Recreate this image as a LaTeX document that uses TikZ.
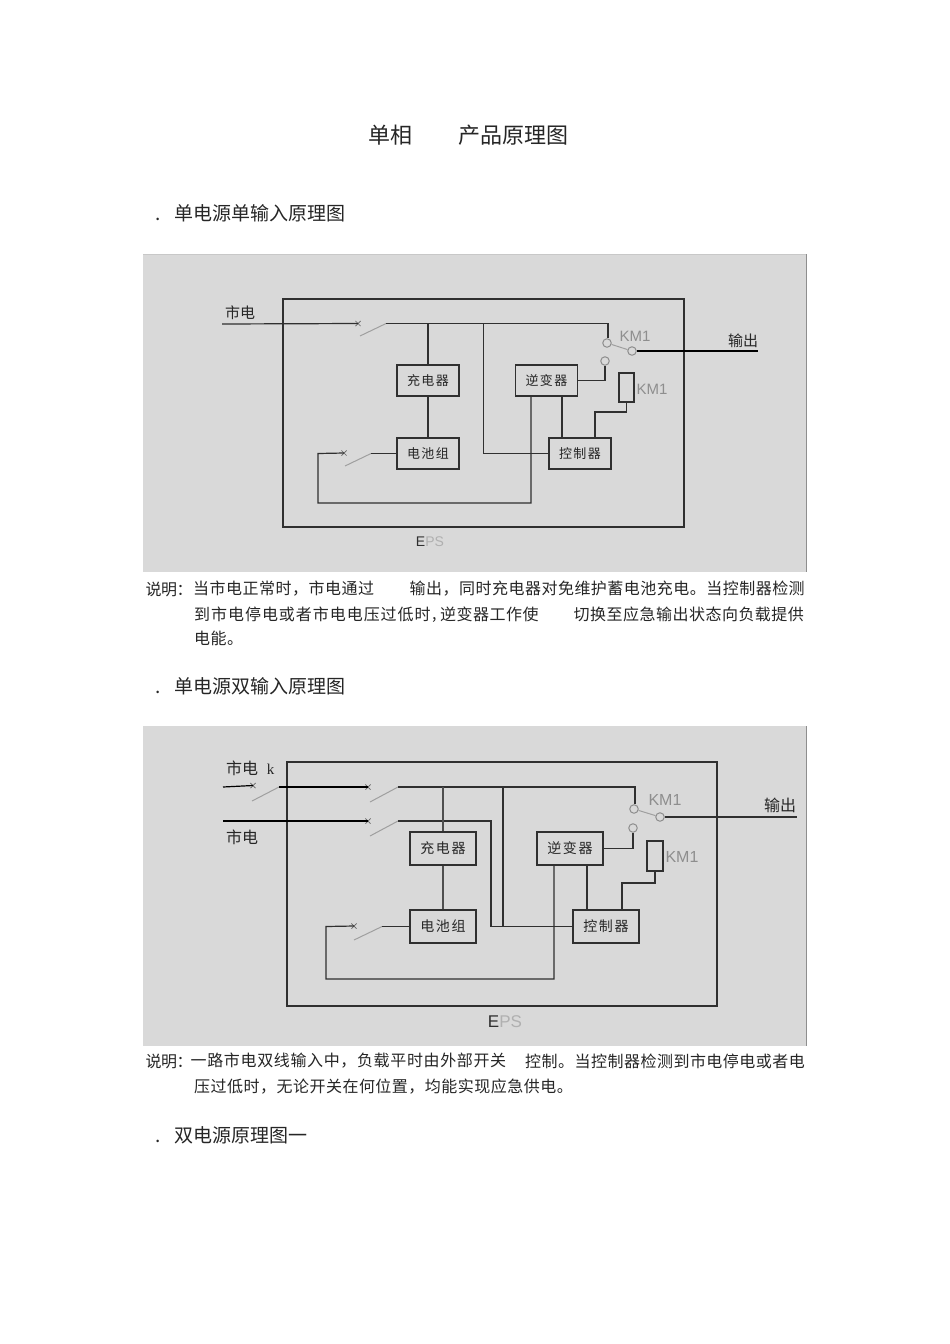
\documentclass[tikz,border=0pt]{standalone}
\usepackage{fontspec}
\setmainfont{Liberation Sans}
\newfontfamily\cjk{Noto Sans CJK SC}
\newfontfamily\serifk{Liberation Serif}
\usetikzlibrary{shapes.misc}
\definecolor{panelbg}{HTML}{D9D9D9}
\definecolor{wire}{HTML}{303030}
\definecolor{txt}{HTML}{262626}
\definecolor{soft}{HTML}{8E8E8E}
\newcommand{\seg}[6]{\node[seg] (#1) at (#2) {\fontsize{#3}{#3}\selectfont\cjk\addfontfeature{LetterSpace=#4}\vphantom{单}#5#6};}
\tikzset{
  seg/.style={anchor=west,inner sep=0pt,text=txt},
  wireline/.style={draw=wire,line width=1.2pt},
  thick wire/.style={draw=wire!85,line width=1.4pt},
  blade/.style={draw=soft!85,line width=1pt},
  outerbox/.style={draw=wire,line width=1.2pt,inner sep=0pt},
  unitA/.style={draw=wire,line width=1.25pt,inner sep=0pt,minimum width=62pt,minimum height=31pt,text=txt,font=\cjk\fontsize{13}{13}\selectfont\addfontfeature{LetterSpace=11}},
  unitB/.style={draw=wire,line width=1.25pt,inner sep=0pt,minimum width=66pt,minimum height=33pt,text=txt,font=\cjk\fontsize{14}{14}\selectfont\addfontfeature{LetterSpace=12}},
  coil/.style={draw=wire,line width=1.25pt,inner sep=0pt},
  contact/.style={circle,draw=soft,line width=1pt,fill=panelbg,inner sep=0pt,minimum size=8.5pt},
  xm/.style={cross out,draw=soft!70!black,line width=0.7pt,inner sep=0pt,minimum size=4.5pt},
  lab/.style={inner sep=0pt,text=txt,font=\cjk\fontsize{15}{15}\selectfont},
  kmlab/.style={inner sep=0pt,text=soft,font=\fontsize{15}{15}\selectfont},
  epslab/.style={inner sep=0pt,font=\fontsize{14}{14}\selectfont},
}
\begin{document}
\begin{tikzpicture}[x=1pt,y=-1pt]
\useasboundingbox[fill=white] (0,0) rectangle (950,1344);

% ---- headings
\seg{t1}{368,135}{22}{0}{单相}{}
\seg{t2}{458,135}{22}{0}{产品原理图}{}
\seg{h1d}{155,213}{19}{0}{.}{}
\seg{h1}{174,213}{19}{0}{单电源单输入原理图}{}
\seg{h2d}{155,686}{19}{0}{.}{}
\seg{h2}{174,686}{19}{0}{单电源双输入原理图}{}
\seg{h3d}{155,1135}{19}{0}{.}{}
\seg{h3}{174,1135}{19}{0}{双电源原理图一}{}

% ---- captions
\seg{c1a}{145.5,589}{16}{-3}{说明：}{}
\seg{c1b}{193,589}{16}{3}{当市电正常时，市电通过}{}
\seg{c1c}{409.5,589}{16}{3}{输出，同时充电器对免维护蓄电池充电。当控制器检测}{}
\seg{c1d}{194,614}{16}{6}{到市电停电或者市电电压过低时}{}
\seg{c1e}{432,614}{16}{0}{,}{}
\seg{c1f}{440,614}{16}{3}{逆变器工作使}{}
\seg{c1g}{573.5,614}{16}{3}{切换至应急输出状态向负载提供}{}
\seg{c1h}{194,638}{16}{3}{电能。}{}
\seg{c2a}{145.5,1061}{16}{-3}{说明：}{}
\seg{c2b}{190.5,1061}{16}{4}{一路市电双线输入中，负载平时由外部开关}{}
\seg{c2c}{525,1061}{16}{3}{控制。当控制器检测到市电停电或者电}{}
\seg{c2d}{194,1087}{16}{3}{压过低时，无论开关在何位置，均能实现应急供电。}{}

% ======== PANEL 1
\fill[panelbg] (143,254) rectangle (806,572);
\draw[soft,line width=1pt] (806.5,254) -- (806.5,572);
\draw[panelbg!92!black,line width=0.8pt] (143,254) -- (806,254);
\node[outerbox,minimum width=401pt,minimum height=228pt] (eps1) at (483.5,413) {};
\node[unitA] (chg1) at (428,380.5) {充电器};
\node[unitA] (bat1) at (428,453.5) {电池组};
\node[unitA] (inv1) at (546.5,380.5) {逆变器};
\node[unitA] (ctl1) at (580,453.5) {控制器};
\node[coil,minimum width=15pt,minimum height=29pt] (coil1) at (626.5,387.5) {};
\coordinate (in1) at (222,324);
\node[xm] (x1) at (358,323.5) {};
\coordinate (sw1b) at (360,336);
\coordinate (sw1t) at (386,323.5);
\coordinate (j1a) at (428,323.5);
\coordinate (j1b) at (483.5,323.5);
\coordinate (top1) at (608,323.5);
\node[contact] (k1a) at (607,343) {};
\node[contact] (k1c) at (632,351) {};
\node[contact] (k1b) at (605,361) {};
\coordinate (out1) at (758,351);
\draw[wireline] (in1) -- (x1.center);
\draw[blade] (sw1b) -- (sw1t);
\draw[wireline] (sw1t) -- (top1) -- (k1a.north -| top1);
\draw[wireline] (j1a) -- (chg1.north);
\draw[wireline] (chg1.south) -- (bat1.north);
\draw[wireline] (j1b) |- (ctl1.west);
\draw[wireline] (inv1.east) -| (k1b.south);
\draw[blade] (k1a) -- (k1c);
\draw[wireline,draw=black] (k1c.east) -- (out1);
\coordinate (inv1d) at (531,396);
\coordinate (ret1) at (531,503);
\coordinate (ret1l) at (318,503);
\coordinate (ret1u) at (318,453.5);
\node[xm] (x1b) at (344,453) {};
\coordinate (sw1c) at (345,466);
\coordinate (sw1d) at (371,453.5);
\draw[wireline] (inv1d) -- (ret1) -- (ret1l) -- (ret1u) -- (x1b.center);
\draw[blade] (sw1c) -- (sw1d);
\draw[wireline] (sw1d) -- (bat1.west);
\draw[wireline] (inv1.south -| 562,0) -- (ctl1.north -| 562,0);
\coordinate (c1r) at (595,412);
\draw[wireline] (coil1.south) |- (c1r) -- (ctl1.north -| c1r);
\node[lab] (m1) at (240,312.5) {市电};
\node[lab] (o1) at (743,341) {输出};
\node[kmlab] (km1a) at (635,336) {KM1};
\node[kmlab] (km1b) at (652,389) {KM1};
\node[epslab] (e1) at (430,542) {\textcolor{wire}{E}\textcolor{soft!70}{PS}};

% ======== PANEL 2
\fill[panelbg] (143,726) rectangle (806,1046);
\draw[soft,line width=1pt] (806.5,726) -- (806.5,1046);
\node[outerbox,minimum width=430pt,minimum height=244pt] (eps2) at (502,884) {};
\node[unitB] (chg2) at (443,848.5) {充电器};
\node[unitB] (bat2) at (443,926.5) {电池组};
\node[unitB] (inv2) at (570,848.5) {逆变器};
\node[unitB] (ctl2) at (606,926.5) {控制器};
\node[coil,minimum width=16pt,minimum height=30pt] (coil2) at (655,856) {};
\coordinate (in2a) at (223,787);
\node[xm] (x2o) at (253,785.5) {};
\coordinate (s2ob) at (252,801);
\coordinate (s2ot) at (279,787);
\node[xm] (x2a) at (368,787) {};
\coordinate (s2ab) at (370,802);
\coordinate (s2at) at (398,787);
\coordinate (j2a) at (443,787);
\coordinate (j2b) at (503,787);
\coordinate (top2) at (635,787);
\node[contact] (k2a) at (634,809) {};
\node[contact] (k2c) at (660,817) {};
\node[contact] (k2b) at (633,828) {};
\coordinate (out2) at (797,817);
\draw[wireline,draw=black] (in2a) -- (x2o.center);
\draw[blade] (s2ob) -- (s2ot);
\draw[wireline,draw=black] (s2ot) -- (x2a.center);
\draw[blade] (s2ab) -- (s2at);
\draw[wireline] (s2at) -- (top2) -- (k2a.north -| top2);
\coordinate (in2b) at (223,821);
\node[xm] (x2b) at (368,821) {};
\coordinate (s2bb) at (370,836);
\coordinate (s2bt) at (398,821);
\coordinate (l2c) at (491,821);
\coordinate (l2d) at (491,926.5);
\draw[wireline,draw=black] (in2b) -- (x2b.center);
\draw[blade] (s2bb) -- (s2bt);
\draw[wireline] (s2bt) -- (l2c) -- (l2d) -- (ctl2.west);
\draw[thick wire] (j2a) -- (chg2.north);
\draw[thick wire] (chg2.south) -- (bat2.north);
\draw[wireline] (j2b) -- (j2b |- ctl2.west);
\draw[wireline] (inv2.east) -| (k2b.south);
\draw[blade] (k2a) -- (k2c);
\draw[wireline] (k2c.east) -- (out2);
\coordinate (inv2d) at (554,865);
\coordinate (ret2) at (554,979);
\coordinate (ret2l) at (326,979);
\coordinate (ret2u) at (326,926.5);
\node[xm] (x2c) at (354,926) {};
\coordinate (s2cb) at (354,940);
\coordinate (s2ct) at (382,926.5);
\draw[wireline] (inv2d) -- (ret2) -- (ret2l) -- (ret2u) -- (x2c.center);
\draw[blade] (s2cb) -- (s2ct);
\draw[wireline] (s2ct) -- (bat2.west);
\draw[wireline] (inv2.south -| 587,0) -- (ctl2.north -| 587,0);
\coordinate (c2r) at (622,883);
\draw[wireline] (coil2.south) |- (c2r) -- (ctl2.north -| c2r);
\node[lab,font=\cjk\fontsize{16}{16}\selectfont] (m2a) at (242,768) {市电};
\node[inner sep=0pt,text=txt,font=\serifk\fontsize{15}{15}\selectfont] (k2) at (270.5,769) {k};
\node[lab,font=\cjk\fontsize{16}{16}\selectfont] (m2b) at (242,837) {市电};
\node[lab,font=\cjk\fontsize{16}{16}\selectfont] (o2) at (780,805) {输出};
\node[kmlab,font=\fontsize{16}{16}\selectfont] (km2a) at (665,800) {KM1};
\node[kmlab,font=\fontsize{16}{16}\selectfont] (km2b) at (682,857) {KM1};
\node[epslab,font=\fontsize{17}{17}\selectfont] (e2) at (505,1022) {\textcolor{wire}{E}\textcolor{soft!70}{PS}};
\end{tikzpicture}
\end{document}
